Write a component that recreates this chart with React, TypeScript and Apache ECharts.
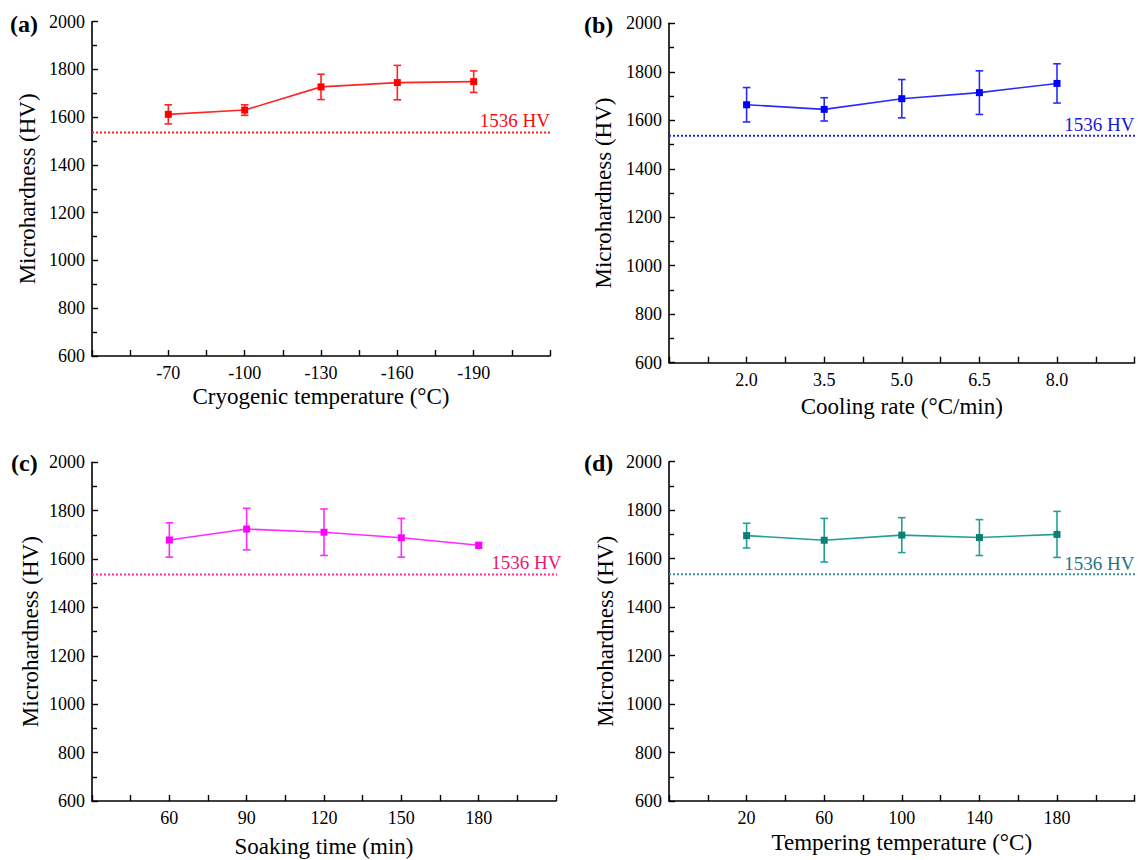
import React, { useEffect, useRef } from "react";
import * as echarts from "echarts";

// ---- data ----
const catsA = ["-70", "-100", "-130", "-160", "-190"];
const valsA = [1612, 1630, 1727, 1745, 1749];
const errsA = [40, 22, 53, 72, 45];

const catsB = ["2.0", "3.5", "5.0", "6.5", "8.0"];
const valsB = [1664, 1645, 1689, 1714, 1752];
const errsB = [71, 48, 79, 90, 81];

const catsC = ["60", "90", "120", "150", "180"];
const valsC = [1679, 1724, 1711, 1688, 1657];
const errsC = [71, 86, 96, 80, 11];

const catsD = ["20", "60", "100", "140", "180"];
const valsD = [1695, 1676, 1697, 1687, 1700];
const errsD = [51, 90, 72, 74, 95];

const refHV = 1536;
const refLabel = "1536 HV";
const yTicks = [600, 800, 1000, 1200, 1400, 1600, 1800, 2000];

const FONT = '"Liberation Serif", "Times New Roman", Times, serif';

type Panel = {
  tag: string;
  cats: string[];
  vals: number[];
  errs: number[];
  xName: string;
  color: string;
  marker: string;
  refColor: string;
  labelColor: string;
  grid: { left: number; top: number; width: number; height: number };
  xNameGap: number;
  yNameGap: number;
  refEnd: number;
  labelX: number;
  labelDy: number;
  titlePos: { left: number; top: number };
};

const panels: Panel[] = [
  {
    tag: "(a)", cats: catsA, vals: valsA, errs: errsA,
    xName: "Cryogenic temperature (°C)",
    color: "#ff2424", marker: "#ff0000", refColor: "#ff2020", labelColor: "#f01010",
    grid: { left: 92, top: 21.7, width: 458, height: 334.3 },
    xNameGap: 29, yNameGap: 53, refEnd: 6.13, labelX: 6.0, labelDy: -12,
    titlePos: { left: 10, top: 12 },
  },
  {
    tag: "(b)", cats: catsB, vals: valsB, errs: errsB,
    xName: "Cooling rate (°C/min)",
    color: "#2a2aff", marker: "#0000ff", refColor: "#2222ee", labelColor: "#1818d8",
    grid: { left: 669, top: 23.3, width: 465.6, height: 339.4 },
    xNameGap: 32, yNameGap: 54, refEnd: 6.1, labelX: 6.0, labelDy: -11,
    titlePos: { left: 584, top: 13 },
  },
  {
    tag: "(c)", cats: catsC, vals: valsC, errs: errsC,
    xName: "Soaking time (min)",
    color: "#ff2aff", marker: "#ff00ff", refColor: "#ff2a8c", labelColor: "#e81a6e",
    grid: { left: 92, top: 462.3, width: 464, height: 338.7 },
    xNameGap: 34, yNameGap: 50, refEnd: 6.14, labelX: 6.07, labelDy: -12.5,
    titlePos: { left: 11, top: 451 },
  },
  {
    tag: "(d)", cats: catsD, vals: valsD, errs: errsD,
    xName: "Tempering temperature (°C)",
    color: "#22a098", marker: "#0b7f78", refColor: "#3a8fa2", labelColor: "#247585",
    grid: { left: 669, top: 461.7, width: 465.6, height: 339.3 },
    xNameGap: 30, yNameGap: 52, refEnd: 6.1, labelX: 6.0, labelDy: -10.5,
    titlePos: { left: 584, top: 451 },
  },
];

function buildOption() {
  const grids: any[] = [];
  const xAxes: any[] = [];
  const yAxes: any[] = [];
  const series: any[] = [];
  const titles: any[] = [];

  panels.forEach((p, i) => {
    grids.push({ ...p.grid, containLabel: false });
    titles.push({
      text: p.tag,
      left: p.titlePos.left,
      top: p.titlePos.top,
      padding: 0,
      textStyle: { fontFamily: FONT, fontSize: 24, fontWeight: "bold", color: "#000" },
    });
    xAxes.push({
      type: "value",
      gridIndex: i,
      min: 0,
      max: 6,
      interval: 0.5,
      name: p.xName,
      nameLocation: "middle",
      nameGap: p.xNameGap,
      nameTextStyle: { fontFamily: FONT, fontSize: 23, color: "#000" },
      axisLine: { show: true, onZero: false, lineStyle: { color: "#000", width: 1.6 } },
      axisTick: { show: true, inside: true, length: 6, lineStyle: { color: "#000", width: 1.4 } },
      axisLabel: {
        margin: 8,
        fontFamily: FONT,
        fontSize: 18,
        color: "#000",
        formatter: (v: number) => {
          const k = Math.round(v * 2) / 2;
          if (Number.isInteger(k) && k >= 1 && k <= p.cats.length) return p.cats[k - 1];
          return "";
        },
      },
      splitLine: { show: false },
    });
    yAxes.push({
      type: "value",
      gridIndex: i,
      min: yTicks[0],
      max: yTicks[yTicks.length - 1],
      interval: yTicks[1] - yTicks[0],
      name: "Microhardness (HV)",
      nameLocation: "middle",
      nameGap: p.yNameGap,
      nameTextStyle: { fontFamily: FONT, fontSize: 23, color: "#000" },
      axisLine: { show: true, onZero: false, lineStyle: { color: "#000", width: 1.6 } },
      axisTick: { show: true, inside: true, length: 6, lineStyle: { color: "#000", width: 1.4 } },
      minorTick: { show: true, splitNumber: 2, length: 5, lineStyle: { color: "#000", width: 1.4 } },
      axisLabel: {
        margin: 7,
        fontFamily: FONT,
        fontSize: 18,
        color: "#000",
        formatter: (v: number) => String(v),
      },
      splitLine: { show: false },
    });

    // reference dotted line
    series.push({
      type: "line",
      xAxisIndex: i,
      yAxisIndex: i,
      data: [[0, refHV], [p.refEnd, refHV]],
      clip: false,
      showSymbol: false,
      symbol: "none",
      silent: true,
      lineStyle: { color: p.refColor, width: 2, type: [2, 2] },
      z: 1,
    });
    // reference label
    series.push({
      type: "scatter",
      xAxisIndex: i,
      yAxisIndex: i,
      data: [[p.labelX, refHV]],
      clip: false,
      symbol: "circle",
      symbolSize: 0.1,
      itemStyle: { color: "rgba(0,0,0,0)" },
      silent: true,
      label: {
        show: true,
        position: "left",
        distance: 0,
        offset: [0, p.labelDy],
        formatter: () => refLabel,
        fontFamily: FONT,
        fontSize: 19,
        color: p.labelColor,
        opacity: 1,
      },
      z: 2,
    });
    // error bars
    series.push({
      type: "custom",
      xAxisIndex: i,
      yAxisIndex: i,
      data: p.vals.map((v, k) => [k + 1, v - p.errs[k], v + p.errs[k]]),
      renderItem: (params: any, api: any) => {
        const x = api.value(0);
        const lo = api.coord([x, api.value(1)]);
        const hi = api.coord([x, api.value(2)]);
        const hw = 3.8;
        const style = { stroke: p.color, lineWidth: 1.6 };
        return {
          type: "group",
          children: [
            { type: "line", shape: { x1: lo[0], y1: lo[1], x2: hi[0], y2: hi[1] }, style },
            { type: "line", shape: { x1: hi[0] - hw, y1: hi[1], x2: hi[0] + hw, y2: hi[1] }, style },
            { type: "line", shape: { x1: lo[0] - hw, y1: lo[1], x2: lo[0] + hw, y2: lo[1] }, style },
          ],
        };
      },
      encode: { x: 0, y: [1, 2] },
      silent: true,
      z: 3,
    });
    // main line
    series.push({
      type: "line",
      xAxisIndex: i,
      yAxisIndex: i,
      data: p.vals.map((v, k) => [k + 1, v]),
      symbol: "rect",
      symbolSize: 7,
      showSymbol: true,
      lineStyle: { color: p.color, width: 1.6 },
      itemStyle: { color: p.marker },
      z: 4,
    });
  });

  return {
    animation: false,
    backgroundColor: "#fff",
    title: titles,
    grid: grids,
    xAxis: xAxes,
    yAxis: yAxes,
    series,
  };
}

export default function App() {
  const ref = useRef<HTMLDivElement>(null);
  useEffect(() => {
    document.body.style.margin = "0";
    if (!ref.current) return;
    const chart = echarts.init(ref.current, undefined, { renderer: "svg" });
    chart.setOption(buildOption() as any);
    return () => chart.dispose();
  }, []);
  return <div ref={ref} style={{ width: 1138, height: 860 }} />;
}
